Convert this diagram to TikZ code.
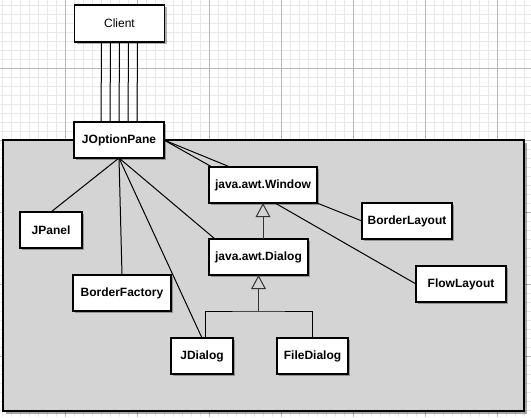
\documentclass[tikz,border=0pt]{standalone}
\usepackage{fontspec}
\setmainfont{Liberation Sans}
\usetikzlibrary{arrows.meta,shadows}
\begin{document}
\begin{tikzpicture}[x=0.75pt, y=-0.75pt,
                    every node/.style={inner sep=0pt, outer sep=0pt, minimum height=27pt},
                    cls/.style={rectangle, draw, line width=1pt, fill=white,
                                font=\fontsize{9}{10}\selectfont\bfseries,
                                minimum width=#1*0.75pt,
                                drop shadow={shadow xshift=1.5pt, shadow yshift=-1.5pt,
                                             fill=black, opacity=0.3}},
                    cls/.default=90,
                    assoc/.style={line width=0.75pt},
                    inherit/.style={line width=0.75pt, draw=black!80,
                                    -{Triangle[open, width=11pt, length=10.5pt]}},
                    gridminor/.style={draw=black!9, line width=0.5pt},
                    gridmajor/.style={draw=black!28, line width=0.6pt},
                    pane/.style={draw, line width=1pt, fill=black!17,
                                 drop shadow={shadow xshift=2pt, shadow yshift=-2pt,
                                              fill=black, opacity=0.35}}]
  \useasboundingbox (0,0) rectangle (531,417);
  % background grid
  \foreach \gx in {2,11,...,530} \draw[gridminor] (\gx,0) -- (\gx,417);
  \foreach \gy in {5,14,...,416} \draw[gridminor] (0,\gy) -- (531,\gy);
  \foreach \gx in {65,137,...,497} \draw[gridmajor] (\gx,0) -- (\gx,417);
  \foreach \gy in {68,140,...,356} \draw[gridmajor] (0,\gy) -- (531,\gy);
  \draw[pane] (3,140) rectangle (524,411);

  \node[cls, minimum height=27.75pt, font=\fontsize{9}{10}\selectfont] (Client) at (119.5,23.5) {Client};
  \node[cls] (JOptionPane) at (119,140) {JOptionPane};
  \node[cls=108] (Window) at (263,185) {java.awt.Window};
  \node[cls] (BorderLayout) at (407,221) {BorderLayout};
  \node[cls=99] (Dialog) at (258.5,257) {java.awt.Dialog};
  \node[cls] (FlowLayout) at (461,284) {FlowLayout};
  \node[cls=62] (JPanel) at (51,230) {JPanel};
  \node[cls=98] (BorderFactory) at (122,293) {BorderFactory};
  \node[cls=62] (JDialog) at (202,356) {JDialog};
  \node[cls=71] (FileDialog) at (312.5,356) {FileDialog};
  \coordinate (fork) at (258.5,311);

  \foreach \dx in {-18,-9,0,9,18}
    \draw[assoc] ([xshift=\dx*0.75pt]Client.south) -- ([xshift=\dx*0.75pt]JOptionPane.north);
  \draw[assoc] (JOptionPane.east) -- ([xshift=2.25pt]Window.north west);
  \draw[assoc] (JOptionPane.east) -- ([xshift=15.75pt]Window.north west);
  \draw[assoc] (JOptionPane.south) -- (JPanel.north);
  \draw[assoc] (JOptionPane.south) -- (BorderFactory.north);
  \draw[assoc] (JOptionPane.south) -- (JDialog.north);
  \draw[assoc] (JOptionPane.south) -- ([xshift=4.5pt]Dialog.north west);
  \draw[assoc] (Window.south east) -- (BorderLayout.west);
  \draw[assoc] ([xshift=9pt]Window.south) -- (FlowLayout.west);
  \draw[inherit] (Dialog.north -| Window.south) -- (Window.south);
  \draw[assoc] ([xshift=2.25pt]JDialog.north) |- (fork) -| (FileDialog.north);
  \draw[inherit] (fork) -- (Dialog.south);
\end{tikzpicture}
\end{document}
